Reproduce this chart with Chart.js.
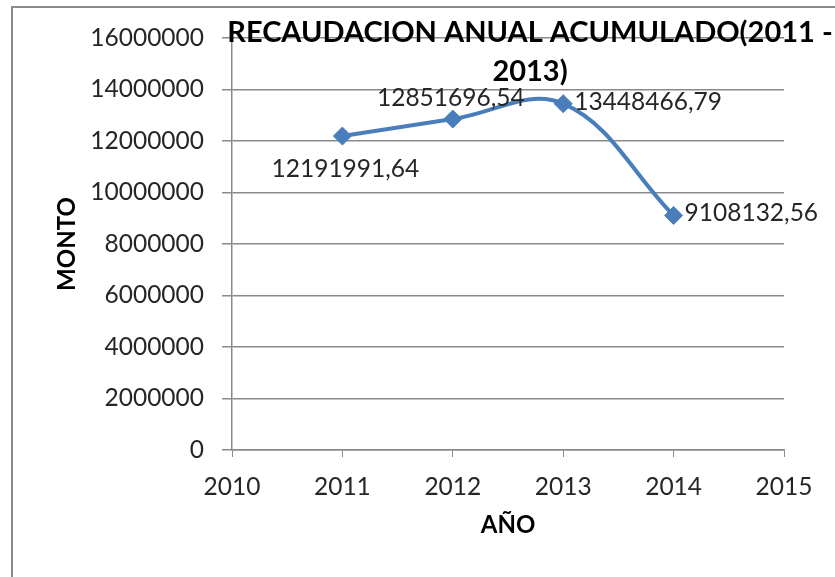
<!DOCTYPE html>
<html>
<head>
<meta charset="utf-8">
<script src="https://cdn.jsdelivr.net/npm/chart.js@4.4.1/dist/chart.umd.min.js"></script>
<style>
  html, body { margin: 0; padding: 0; background: #fff; }
</style>
</head>
<body>
<canvas id="chart" width="835" height="577"></canvas>
<script>
// data
const years = [2011, 2012, 2013, 2014];
const montos = [12191991.64, 12851696.54, 13448466.79, 9108132.56];
const montoLabels = ['12191991,64', '12851696,54', '13448466,79', '9108132,56'];
const labelSides = ['below', 'above', 'right', 'right'];
const titleLines = ['RECAUDACION ANUAL ACUMULADO(2011 -', '2013)'];

const FONT = 'Lato, "Liberation Sans", sans-serif';
const BLUE = '#4A7EBB';
const GRID = '#8a8a8a';
const TEXT = '#262626';

// white page + the grey frame on the left and top
const frame = {
    id: 'frame',
    beforeDraw(chart) {
        const ctx = chart.ctx;
        ctx.save();
        ctx.fillStyle = '#fff';
        ctx.fillRect(0, 0, chart.width, chart.height);
        ctx.strokeStyle = '#8c8c8c';
        ctx.lineWidth = 2;
        ctx.strokeRect(12, 7, chart.width + 20, chart.height + 20);
        ctx.restore();
    }
};

// value labels next to each point
const pointLabels = {
    id: 'pointLabels',
    afterDatasetsDraw(chart) {
        const ctx = chart.ctx;
        const meta = chart.getDatasetMeta(0);
        ctx.save();
        ctx.font = '24.5px ' + FONT;
        ctx.fillStyle = TEXT;
        ctx.textBaseline = 'middle';
        meta.data.forEach((pt, i) => {
            const side = labelSides[i];
            if (side === 'below') {
                ctx.textAlign = 'center';
                ctx.fillText(montoLabels[i], pt.x + 3, pt.y + 33);
            } else if (side === 'above') {
                ctx.textAlign = 'center';
                ctx.fillText(montoLabels[i], pt.x - 2, pt.y - 21);
            } else {
                ctx.textAlign = 'left';
                ctx.fillText(montoLabels[i], pt.x + 11, pt.y - 2);
            }
        });
        ctx.restore();
    }
};

// chart title sits over the plot, like in the original
const overTitle = {
    id: 'overTitle',
    afterDraw(chart) {
        const ctx = chart.ctx;
        ctx.save();
        ctx.font = 'bold 29px ' + FONT;
        ctx.fillStyle = '#000';
        ctx.textAlign = 'center';
        ctx.textBaseline = 'middle';
        ctx.fillText(titleLines[0], 530, 33);
        ctx.fillText(titleLines[1], 530, 72);
        ctx.restore();
    }
};

new Chart(document.getElementById('chart'), {
    type: 'line',
    data: {
        datasets: [{
            data: years.map((y, i) => ({ x: y, y: montos[i] })),
            borderColor: BLUE,
            backgroundColor: BLUE,
            borderWidth: 4,
            tension: 0.38,
            pointStyle: 'rectRot',
            pointRadius: 9,
            pointBorderWidth: 1
        }]
    },
    options: {
        responsive: false,
        animation: false,
        layout: { padding: { left: 12, top: 38, right: 51, bottom: 0 } },
        plugins: {
            legend: { display: false },
            tooltip: { enabled: false }
        },
        scales: {
            x: {
                type: 'linear',
                min: 2010,
                max: 2015,
                afterFit: s => { s.height = 127; },
                ticks: {
                    stepSize: 1,
                    callback: v => String(v),
                    font: { family: FONT, size: 24.5 },
                    color: TEXT,
                    padding: 15
                },
                grid: { drawOnChartArea: false, color: GRID, tickLength: 7 },
                border: { color: GRID, width: 1.5 },
                title: {
                    display: true,
                    text: 'AÑO',
                    font: { family: FONT, size: 24, weight: 'bold' },
                    color: '#000',
                    padding: { top: 0, bottom: 37 }
                }
            },
            y: {
                min: 0,
                max: 16000000,
                afterFit: s => { s.width = 220; },
                ticks: {
                    stepSize: 2000000,
                    callback: v => String(v),
                    font: { family: FONT, size: 24.5 },
                    color: TEXT,
                    padding: 18
                },
                grid: { color: GRID, tickLength: 10, lineWidth: 1.5 },
                border: { color: GRID, width: 1.5 },
                title: {
                    display: true,
                    text: 'MONTO',
                    font: { family: FONT, size: 24, weight: 'bold' },
                    color: '#000',
                    padding: { top: 41, bottom: 0 }
                }
            }
        }
    },
    plugins: [frame, pointLabels, overTitle]
});
</script>
</body>
</html>
